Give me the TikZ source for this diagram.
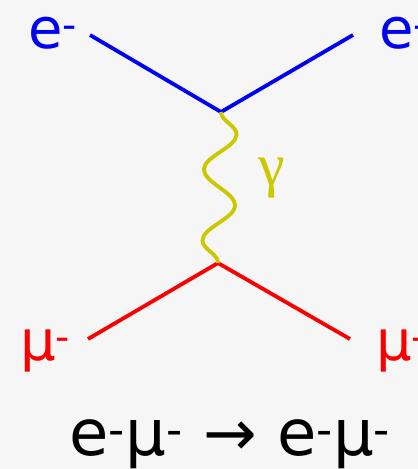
\documentclass[tikz,border=0pt]{standalone}
\usepackage{fontspec}
\setmainfont{DejaVu Sans}
\newfontfamily\gamfont{Liberation Serif}
\usetikzlibrary{decorations.pathmorphing}
\definecolor{paper}{RGB}{246,246,247}
\definecolor{elec}{RGB}{0,0,245}
\definecolor{muon}{RGB}{250,0,0}
\definecolor{phot}{RGB}{204,200,0}
\newcommand{\chneg}{\textsuperscript{-}}

\begin{document}
\begin{tikzpicture}[x=1pt, y=-1pt,
  fermion/.style={line width=3.8pt},
  photon/.style={line width=3.8pt, phot, decorate, decoration={snake, segment length=71, amplitude=16}},
  lbl/.style={font=\fontsize{56}{56}\selectfont, inner sep=0pt, anchor=base west}]
\clip (0,0) rectangle (418,469);
\fill[paper] (0,0) rectangle (418,469);
\coordinate (vtop) at (221,112);
\coordinate (vbot) at (218,263);
\coordinate (ein) at (90,35);
\coordinate (eout) at (353,35);
\coordinate (muin) at (88,339);
\coordinate (muout) at (350,339);
\draw[fermion, elec] (ein) -- (vtop) -- (eout);
\draw[fermion, muon] (muin) -- (vbot) -- (muout);
\draw[photon] (vtop) -- (vbot);
\node[lbl, elec] (elab1) at (28,48) {e\chneg};
\node[lbl, elec] (elab2) at (379,48) {e\chneg};
\node[lbl, muon] (mulab1) at (20,360) {μ\chneg};
\node[lbl, muon] (mulab2) at (376,360) {μ\chneg};
\node[inner sep=0pt, phot, font=\gamfont\fontsize{60}{60}\selectfont] (glab) at (272,178) {γ};
\node[lbl, font=\fontsize{64}{64}\selectfont, anchor=base] (proc) at (230,455) {e\chneg μ\chneg\ → e\chneg μ\chneg};
\end{tikzpicture}
\end{document}
